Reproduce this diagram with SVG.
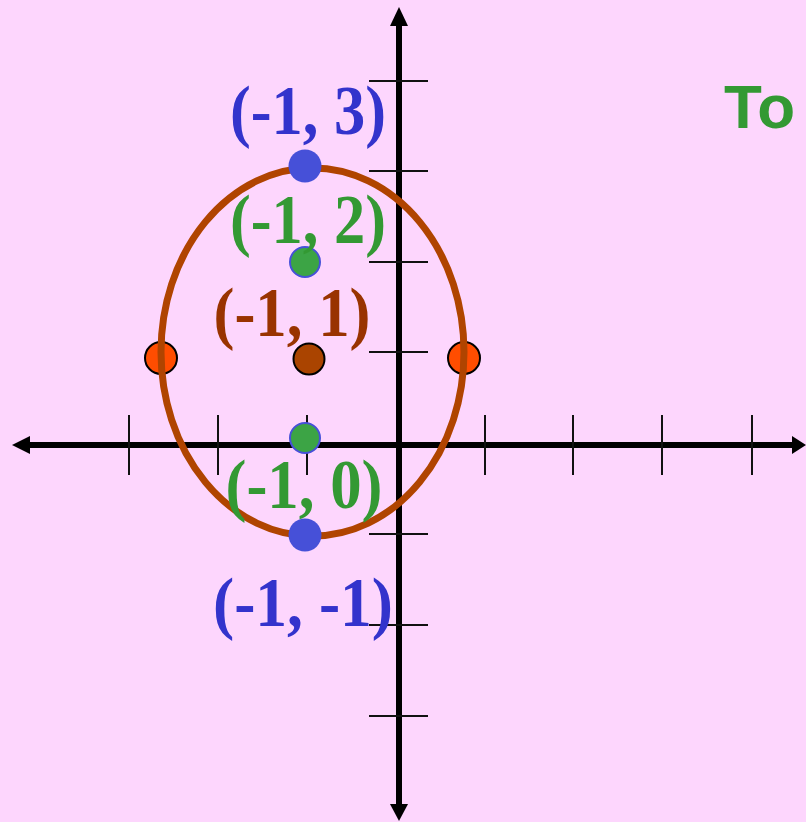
<svg xmlns="http://www.w3.org/2000/svg" width="806" height="822" viewBox="0 0 806 822">
<defs>
<style>
.axis{stroke:#000;stroke-width:6;fill:none}
.tick{stroke:#111;stroke-width:2}
.lbl{font-family:"Liberation Serif","Times New Roman",serif;font-weight:bold;font-size:70px;text-anchor:middle}
.blue{fill:#3333cc}
.green{fill:#339933}
.brown{fill:#993300}
</style>
</defs>
<rect x="0" y="0" width="806" height="822" fill="#fdd6fd"/>
<g id="axes">
<line class="axis" x1="26" y1="445" x2="795" y2="445"/>
<line class="axis" x1="399" y1="22" x2="399" y2="806"/>
<polygon points="12,445 30,436 30,454" fill="#000"/>
<polygon points="806,445 792,436 792,454" fill="#000"/>
<polygon points="399,7 390,26 408,26" fill="#000"/>
<polygon points="399,821 390,804 408,804" fill="#000"/>
<g class="tick">
<line x1="129" y1="415" x2="129" y2="475"/>
<line x1="218" y1="415" x2="218" y2="475"/>
<line x1="307" y1="415" x2="307" y2="475"/>
<line x1="485" y1="415" x2="485" y2="475"/>
<line x1="573" y1="415" x2="573" y2="475"/>
<line x1="662" y1="415" x2="662" y2="475"/>
<line x1="752" y1="415" x2="752" y2="475"/>
<line x1="369" y1="81" x2="428" y2="81"/>
<line x1="369" y1="171" x2="428" y2="171"/>
<line x1="369" y1="262" x2="428" y2="262"/>
<line x1="369" y1="352" x2="428" y2="352"/>
<line x1="369" y1="534" x2="428" y2="534"/>
<line x1="369" y1="625" x2="428" y2="625"/>
<line x1="369" y1="716" x2="428" y2="716"/>
</g>
</g>
<g id="vertices">
<circle cx="161" cy="358" r="16" fill="#ff4d00" stroke="#000" stroke-width="2"/>
<circle cx="464" cy="358" r="16" fill="#ff4d00" stroke="#000" stroke-width="2"/>
</g>
<g id="ellipse">
<ellipse cx="312.5" cy="352" rx="151.5" ry="184" fill="none" stroke="#b04400" stroke-width="7"/>
</g>
<g id="points">
<circle cx="305" cy="166" r="16.5" fill="#4650d8"/>
<circle cx="305" cy="535" r="16.5" fill="#4650d8"/>
<circle cx="305" cy="262" r="15" fill="#3ca445" stroke="#4650d8" stroke-width="2"/>
<circle cx="305" cy="438" r="15" fill="#3ca445" stroke="#4650d8" stroke-width="2"/>
<circle cx="309" cy="359" r="15.5" fill="#aa4400" stroke="#000" stroke-width="2"/>
</g>
<g id="labels">
<text class="lbl blue" x="308" y="134" textLength="156" lengthAdjust="spacingAndGlyphs">(-1, 3)</text>
<text class="lbl green" x="308" y="243" textLength="156" lengthAdjust="spacingAndGlyphs">(-1, 2)</text>
<text class="lbl brown" x="292" y="336" textLength="157" lengthAdjust="spacingAndGlyphs">(-1, 1)</text>
<text class="lbl green" x="304" y="508" textLength="157" lengthAdjust="spacingAndGlyphs">(-1, 0)</text>
<text class="lbl blue" x="303" y="626" textLength="180" lengthAdjust="spacingAndGlyphs">(-1, -1)</text>
<text x="724" y="128" font-family="'Liberation Sans',Arial,sans-serif" font-weight="bold" font-size="62" fill="#339933">To</text>
</g>
</svg>
